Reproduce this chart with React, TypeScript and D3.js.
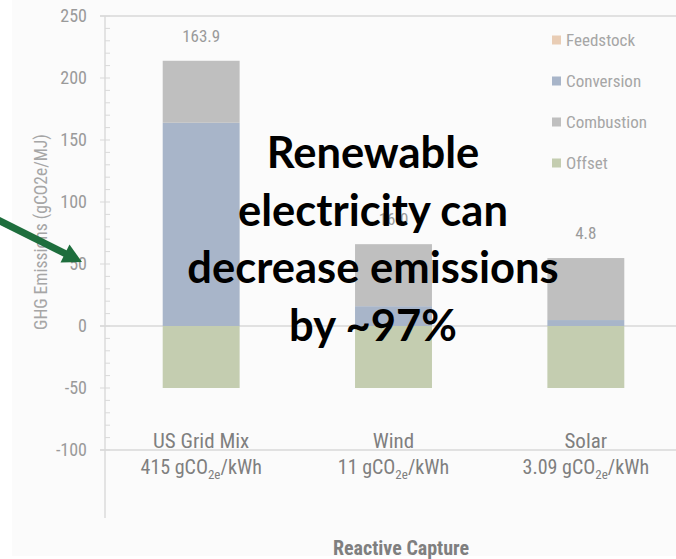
import React from "react";
import * as d3 from "d3";

// Emission components per electricity source (gCO2e/MJ)
const categories = ["US Grid Mix", "Wind", "Solar"];
const gridIntensity = ["415", "11", "3.09"]; // gCO2e/kWh of each electricity source
const feedstock = [0, 0, 0];
const conversion = [163.9, 16.0, 4.8];
const combustion = [50, 50, 50];
const offset = [-50, -50, -50];

const seriesNames = ["Feedstock", "Conversion", "Combustion", "Offset"];
const seriesColors = ["#e9cdb5", "#a8b5c9", "#bfbfbf", "#c4cdb0"];

const yTicks = [250, 200, 150, 100, 50, 0, -50, -100];
const gridValues = [250, 0, -100];
const calloutLines = ["Renewable", "electricity can", "decrease emissions", "by ~97%"];

const W = 676;
const H = 559;
const NARROW = "'Liberation Sans Narrow','Arial Narrow','Roboto Condensed',sans-serif";

export default function App() {
  const rows = categories.map((c, i) => ({
    category: c,
    Feedstock: feedstock[i],
    Conversion: conversion[i],
    Combustion: combustion[i],
    Offset: offset[i],
  }));

  const stacked = d3
    .stack<any>()
    .keys(seriesNames)
    .offset(d3.stackOffsetDiverging)(rows);

  const x = d3
    .scaleBand<string>()
    .domain(categories)
    .range([105, 682])
    .paddingInner(0.6)
    .paddingOuter(0.3);

  const y = d3.scaleLinear().domain([-100, 250]).range([450, 16]);
  const minorTicks = d3.range(-100, 251, 10);
  const axisX = 105;

  const totals = categories.map((_, i) => feedstock[i] + conversion[i] + combustion[i]);
  const fmt = d3.format(".1f");

  // arrow pointing at the axis
  const tip: [number, number] = [82, 262];
  const start: [number, number] = [-10, 216];
  const dx = tip[0] - start[0];
  const dy = tip[1] - start[1];
  const len = Math.hypot(dx, dy);
  const ux = dx / len;
  const uy = dy / len;
  const headLen = 19;
  const headHalf = 10;
  const base: [number, number] = [tip[0] - ux * headLen, tip[1] - uy * headLen];
  const headPath = d3.path();
  headPath.moveTo(tip[0], tip[1]);
  headPath.lineTo(base[0] - uy * headHalf, base[1] + ux * headHalf);
  headPath.lineTo(base[0] + uy * headHalf, base[1] - ux * headHalf);
  headPath.closePath();

  return (
    <svg
      width={W}
      height={H}
      style={{ position: "fixed", left: 0, top: 0, background: "#fff" }}
    >
      <rect x={12} y={0} width={W - 12} height={556} fill="#fbfbfb" />

      {/* horizontal rules */}
      {gridValues.map((v) => (
        <line
          key={v}
          x1={axisX - 5}
          x2={W}
          y1={y(v)}
          y2={y(v)}
          stroke="#d9d9d9"
          strokeWidth={1.4}
        />
      ))}

      {/* stacked bars */}
      {stacked.map((s, si) =>
        s.map((d, i) => {
          const y0 = y(Math.max(d[0], d[1]));
          const y1 = y(Math.min(d[0], d[1]));
          if (Math.abs(y1 - y0) < 0.01) return null;
          return (
            <rect
              key={`${si}-${i}`}
              x={x(categories[i])}
              width={x.bandwidth()}
              y={y0}
              height={y1 - y0}
              fill={seriesColors[si]}
            />
          );
        })
      )}

      {/* y axis */}
      <line x1={axisX} x2={axisX} y1={y(250)} y2={518} stroke="#d9d9d9" strokeWidth={1.4} />
      {minorTicks.map((v) => (
        <line
          key={v}
          x1={v % 50 === 0 ? axisX - 5 : axisX}
          x2={axisX + 5}
          y1={y(v)}
          y2={y(v)}
          stroke="#d9d9d9"
          strokeWidth={1}
        />
      ))}
      {yTicks.map((v) => (
        <text
          key={v}
          x={87}
          y={y(v)}
          dy="0.36em"
          textAnchor="end"
          fontFamily={NARROW}
          fontSize={18}
          fill="#9a9a9a"
        >
          {v}
        </text>
      ))}
      <text
        transform={`translate(47,232) rotate(-90)`}
        textAnchor="middle"
        fontFamily={NARROW}
        fontSize={17.5}
        fill="#a6a6a6"
      >
        GHG Emissions  (gCO2e/MJ)
      </text>

      {/* value labels */}
      {categories.map((c, i) => (
        <text
          key={c}
          x={x(c)! + x.bandwidth() / 2}
          y={y(totals[i]) - 19}
          textAnchor="middle"
          fontFamily={NARROW}
          fontSize={17}
          fill="#9a9a9a"
        >
          {fmt(conversion[i])}
        </text>
      ))}

      {/* category labels */}
      {categories.map((c, i) => {
        const cx = x(c)! + x.bandwidth() / 2;
        return (
          <g key={c} fontFamily={NARROW} fill="#7f7f7f" textAnchor="middle">
            <text x={cx} y={448} fontSize={21}>
              {c}
            </text>
            <text x={cx} y={474} fontSize={20}>
              {gridIntensity[i]} gCO
              <tspan fontSize={13} dy={5}>
                2e
              </tspan>
              <tspan dy={-5}>/kWh</tspan>
            </text>
          </g>
        );
      })}

      <text
        x={401}
        y={555}
        textAnchor="middle"
        fontFamily={NARROW}
        fontWeight="bold"
        fontSize={20}
        fill="#7f7f7f"
      >
        Reactive Capture
      </text>

      {/* legend */}
      {seriesNames.map((n, i) => (
        <g key={n} transform={`translate(552,${40 + i * 41})`}>
          <rect x={0} y={-4.5} width={9} height={9} fill={seriesColors[i]} />
          <text x={14} y={0} dy="0.36em" fontFamily={NARROW} fontSize={17} fill="#a6a6a6">
            {n}
          </text>
        </g>
      ))}

      {/* callout */}
      <g fontFamily="Lato, 'Open Sans', sans-serif" fontWeight="bold" fill="#000" textAnchor="middle">
        {calloutLines.map((l, i) => (
          <text key={l} x={373} y={168 + i * 57.7} fontSize={43.5}>
            {l}
          </text>
        ))}
      </g>

      <line
        x1={start[0]}
        y1={start[1]}
        x2={base[0] + ux * 2}
        y2={base[1] + uy * 2}
        stroke="#1e6e3d"
        strokeWidth={7}
      />
      <path d={headPath.toString()} fill="#1e6e3d" />
    </svg>
  );
}
